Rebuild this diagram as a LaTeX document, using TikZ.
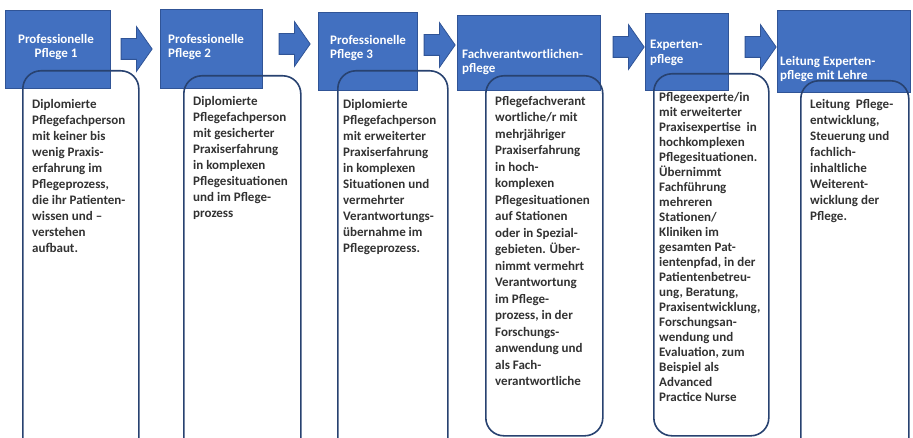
\documentclass[tikz,border=0pt]{standalone}
\usepackage{fontspec}
\setmainfont{Carlito}
\usetikzlibrary{shapes.arrows}
\definecolor{hdrblue}{RGB}{66,112,192}
\definecolor{hdredge}{RGB}{48,84,150}
\definecolor{cardedge}{RGB}{40,66,112}
\definecolor{bodytext}{RGB}{50,50,50}
\begin{document}
\begin{tikzpicture}[x=1pt,y=-1pt,
  hdrbox/.style={draw=hdredge,fill=hdrblue,line width=0.8pt,anchor=north west,inner sep=0pt},
  hdrtext/.style={text=white,font=\bfseries\fontsize{13}{14.5}\selectfont,inner sep=0pt,anchor=north west,align=left},
  card/.style={draw=cardedge,line width=1.6pt,rounded corners=18pt,anchor=north west,inner sep=0pt},
  bodytxt/.style={text=bodytext,font=\bfseries\fontsize{13}{16}\selectfont,inner sep=0pt,anchor=north west,align=left},
  flowarrow/.style={single arrow,draw=hdredge,fill=hdrblue,line width=0.8pt,inner xsep=0pt,inner ysep=10pt,
    minimum height=31pt,single arrow head extend=12pt,single arrow tip angle=110}
]
\useasboundingbox (0,0) rectangle (913,438);
\clip (0,0) rectangle (913,438);

% header boxes
\node[hdrbox,minimum width=105pt,minimum height=78pt] (h1) at (5,10) {};
\node[hdrbox,minimum width=102pt,minimum height=79pt] (h2) at (160,9) {};
\node[hdrbox,minimum width=99pt,minimum height=78pt] (h3) at (318,12) {};
\node[hdrbox,minimum width=143pt,minimum height=75pt] (h4) at (457,15) {};
\node[hdrbox,minimum width=83pt,minimum height=77pt] (h5) at (645,13) {};
\node[hdrbox,minimum width=133pt,minimum height=82pt] (h6) at (777,10) {};

% cards
\node[card,minimum width=116pt,minimum height=390pt] (c1) at (22,70) {};
\node[card,minimum width=117pt,minimum height=385pt] (c2) at (183,75) {};
\node[card,minimum width=110pt,minimum height=390pt] (c3) at (337,70) {};
\node[card,minimum width=117pt,minimum height=360pt] (c4) at (485,75) {};
\node[card,minimum width=115pt,minimum height=362pt] (c5) at (653,73) {};
\node[card,minimum width=108pt,minimum height=385pt] (c6) at (800,80) {};

% header texts
\node[hdrtext,align=center,anchor=north] (t1) at (56,34) {Professionelle\\Pflege 1};
\node[hdrtext] (t2) at (168,34) {Professionelle\\Pflege 2};
\node[hdrtext] (t3) at (330,35) {Professionelle\\Pflege 3};
\node[hdrtext] (t4) at (462,49) {Fachverantwortlichen-\\pflege};
\node[hdrtext] (t5) at (650,40) {Experten-\\pflege};
\node[hdrtext] (t6) at (780,56) {Leitung Experten-\\pflege mit Lehre};

% body texts
\node[bodytxt] (b1) at (32,99) {Diplomierte\\Pflegefachperson\\mit keiner bis\\wenig Praxis-\\erfahrung im\\Pflegeprozess,\\die ihr Patienten-\\wissen und –\\verstehen\\aufbaut.};
\node[bodytxt] (b2) at (193,96) {Diplomierte\\Pflegefachperson\\mit gesicherter\\Praxiserfahrung\\in komplexen\\Pflegesituationen\\und im Pflege-\\prozess};
\node[bodytxt] (b3) at (343,99) {Diplomierte\\Pflegefachperson\\mit erweiterter\\Praxiserfahrung\\in komplexen\\Situationen und\\vermehrter\\Verantwortungs-\\übernahme im\\Pflegeprozess.};
\node[bodytxt,font=\bfseries\fontsize{13}{16.5}\selectfont] (b4) at (495,96) {Pflegefachverant\\wortliche/r mit\\mehrjähriger\\Praxiserfahrung\\in hoch-\\komplexen\\Pflegesituationen\\auf Stationen\\oder in Spezial-\\gebieten. Über-\\nimmt vermehrt\\Verantwortung\\im Pflege-\\prozess, in der\\Forschungs-\\anwendung und\\als Fach-\\verantwortliche};
\node[bodytxt,font=\bfseries\fontsize{13}{15}\selectfont] (b5) at (659,92) {Pflegeexperte/in\\mit erweiterter\\Praxisexpertise~ in\\hochkomplexen\\Pflegesituationen.\\Übernimmt\\Fachführung\\mehreren\\Stationen/\\Kliniken im\\gesamten Pat-\\ientenpfad, in der\\Patientenbetreu-\\ung, Beratung,\\Praxisentwicklung,\\Forschungsan-\\wendung und\\Evaluation, zum\\Beispiel als\\Advanced\\Practice Nurse};
\node[bodytxt] (b6) at (810,99) {Leitung~ Pflege-\\entwicklung,\\Steuerung und\\fachlich-\\inhaltliche\\Weiterent-\\wicklung der\\Pflege.};

% block arrows
\node[flowarrow] (a1) at (133,49) {};
\node[flowarrow] (a2) at (291,44) {};
\node[flowarrow] (a3) at (436,45) {};
\node[flowarrow] (a4) at (625,47) {};
\node[flowarrow] (a5) at (757,47) {};
\end{tikzpicture}
\end{document}
